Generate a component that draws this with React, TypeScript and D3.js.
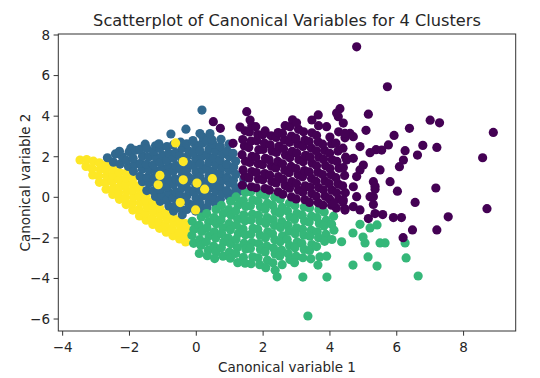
import React from "react";
import * as d3 from "d3";

const clusterColors = ["#440154", "#31688e", "#35b779", "#fde725"];
const xTicks = [-4, -2, 0, 2, 4, 6, 8];
const yTicks = [-6, -4, -2, 0, 2, 4, 6, 8];
const titleText = "Scatterplot of Canonical Variables for 4 Clusters";
const xLabelText = "Canonical variable 1";
const yLabelText = "Canonical variable 2";

// cluster 3 (yellow) – diagonal band
const yellowBand: [number, number][] = [
  [-3.48, 1.84],
  [-3.3, 1.52], [-3.28, 1.86],
  [-3.1, 1.1], [-3.12, 1.42], [-3.08, 1.78],
  [-2.9, 0.74], [-2.92, 1.05], [-2.88, 1.38], [-2.9, 1.7],
  [-2.7, 0.4], [-2.72, 0.72], [-2.68, 1.05], [-2.71, 1.36], [-2.69, 1.62],
  [-2.5, 0.14], [-2.48, 0.46], [-2.52, 0.78], [-2.5, 1.1], [-2.49, 1.4],
  [-2.3, -0.1], [-2.32, 0.22], [-2.28, 0.55], [-2.31, 0.88], [-2.3, 1.22],
  [-2.1, -0.36], [-2.12, -0.04], [-2.08, 0.3], [-2.11, 0.62], [-2.1, 0.95], [-2.09, 1.2],
  [-1.9, -0.63], [-1.92, -0.3], [-1.88, 0.02], [-1.91, 0.35], [-1.9, 0.68], [-1.89, 0.95],
  [-1.7, -0.92], [-1.72, -0.6], [-1.68, -0.27], [-1.71, 0.06], [-1.7, 0.38], [-1.69, 0.58],
  [-1.5, -1.13], [-1.52, -0.8], [-1.48, -0.48], [-1.51, -0.15], [-1.5, 0.12],
  [-1.3, -1.34], [-1.32, -1.02], [-1.28, -0.7], [-1.31, -0.38], [-1.3, -0.2],
  [-1.1, -1.53], [-1.12, -1.2], [-1.08, -0.88], [-1.1, -0.52],
  [-0.9, -1.72], [-0.92, -1.4], [-0.88, -1.08], [-0.9, -0.76],
  [-0.7, -1.9], [-0.72, -1.58], [-0.68, -1.25], [-0.7, -0.96],
  [-0.5, -2.05], [-0.52, -1.72], [-0.48, -1.4], [-0.5, -1.12],
  [-0.32, -2.2], [-0.34, -1.88], [-0.3, -1.55], [-0.32, -1.3],
];

// yellow points showing through the blue cluster
const yellowSpots: [number, number][] = [
  [-1.09, 1.08], [-1.14, 0.62], [-0.39, 0.86], [-0.48, -0.26], [-0.62, 2.68],
  [-0.39, 1.76], [0.02, 0.7], [0.48, 0.92], [0.25, 0.4], [-0.02, -0.62],
];

// cluster 1 (blue)
const bluePoints: [number, number][] = [
  [-2.66, 1.95],
  [-2.48, 1.73], [-2.42, 2.14],
  [-2.28, 1.64], [-2.21, 1.99], [-2.3, 2.27],
  [-2.03, 1.52], [-2.09, 1.82], [-2.01, 2.24], [-1.96, 2.42],
  [-1.88, 1.28], [-1.83, 1.64], [-1.89, 1.93], [-1.82, 2.32],
  [-1.61, 0.77], [-1.68, 1.03], [-1.62, 1.4], [-1.67, 1.68], [-1.61, 2.04], [-1.69, 2.36], [-1.53, 2.62],
  [-1.48, 0.33], [-1.42, 0.7], [-1.47, 0.98], [-1.41, 1.34], [-1.49, 1.63], [-1.42, 2.0], [-1.48, 2.4],
  [-1.22, 0.04], [-1.29, 0.32], [-1.21, 0.68], [-1.28, 0.96], [-1.22, 1.32], [-1.29, 1.6], [-1.21, 1.97], [-1.28, 2.26], [-1.22, 2.54],
  [-1.08, -0.2], [-1.02, 0.12], [-1.09, 0.4], [-1.01, 0.77], [-1.07, 1.06], [-1.02, 1.42], [-1.08, 1.7], [-1.01, 2.07], [-1.09, 2.4], [-1.12, 2.64],
  [-0.82, -0.43], [-0.89, -0.14], [-0.81, 0.22], [-0.88, 0.5], [-0.82, 0.87], [-0.88, 1.16], [-0.81, 1.52], [-0.89, 1.8], [-0.82, 2.17], [-0.88, 2.5],
  [-0.68, -0.68], [-0.62, -0.4], [-0.69, -0.03], [-0.61, 0.26], [-0.68, 0.62], [-0.62, 0.9], [-0.69, 1.27], [-0.61, 1.56], [-0.68, 1.92], [-0.62, 2.2], [-0.69, 2.58],
  [-0.42, -0.86], [-0.49, -0.54], [-0.41, -0.18], [-0.48, 0.1], [-0.42, 0.47], [-0.49, 0.76], [-0.41, 1.12], [-0.48, 1.4], [-0.42, 1.77], [-0.49, 2.06], [-0.42, 2.42], [-0.47, 2.72],
  [-0.28, -0.6], [-0.22, -0.32], [-0.29, 0.05], [-0.21, 0.33], [-0.28, 0.7], [-0.22, 0.98], [-0.29, 1.34], [-0.21, 1.63], [-0.28, 2.0], [-0.22, 2.28], [-0.29, 2.64],
  [-0.02, -0.68], [-0.09, -0.4], [-0.01, -0.03], [-0.08, 0.26], [-0.02, 0.62], [-0.09, 0.9], [-0.01, 1.27], [-0.08, 1.56], [-0.02, 1.92], [-0.09, 2.2], [-0.02, 2.57], [-0.1, 2.8],
  [0.18, -0.58], [0.11, -0.3], [0.19, 0.07], [0.12, 0.36], [0.18, 0.72], [0.11, 1.0], [0.19, 1.37], [0.12, 1.66], [0.18, 2.02], [0.11, 2.3], [0.18, 2.67], [0.2, 2.96],
  [0.32, -0.5], [0.38, -0.22], [0.31, 0.14], [0.38, 0.43], [0.32, 0.8], [0.38, 1.08], [0.31, 1.44], [0.38, 1.73], [0.32, 2.1], [0.38, 2.38], [0.31, 2.77],
  [0.58, -0.3], [0.51, 0.02], [0.59, 0.3], [0.52, 0.67], [0.58, 0.96], [0.51, 1.32], [0.59, 1.6], [0.52, 1.97], [0.58, 2.26], [0.51, 2.62], [0.47, 2.84],
  [0.72, -0.1], [0.78, 0.18], [0.71, 0.54], [0.78, 0.83], [0.72, 1.2], [0.78, 1.48], [0.71, 1.84], [0.78, 2.13], [0.72, 2.5], [0.74, 2.86],
  [0.98, 0.04], [0.91, 0.33], [0.99, 0.7], [0.92, 0.98], [0.98, 1.34], [0.91, 1.63], [0.99, 2.0], [0.92, 2.28], [0.98, 2.62],
  [1.12, 0.2], [1.18, 0.48], [1.11, 0.84], [1.18, 1.13], [1.12, 1.5], [1.18, 1.78], [1.1, 2.17],
  [1.33, 0.32], [1.38, 0.6], [1.42, 0.9],
  [-0.76, 3.12], [-0.31, 3.36], [0.17, 4.3], [0.11, 3.14], [0.41, 3.14],
];

// cluster 2 (green)
const greenPoints: [number, number][] = [
  [-0.12, -1.18], [-0.07, -1.57], [-0.13, -1.88], [-0.08, -2.27],
  [0.15, -0.97], [0.09, -1.38], [0.16, -1.68], [0.1, -2.08], [0.14, -2.37], [0.09, -2.77],
  [0.31, -0.8], [0.37, -1.2], [0.32, -1.5], [0.38, -1.9], [0.3, -2.19], [0.36, -2.6], [0.33, -2.88],
  [0.59, -0.6], [0.53, -1.0], [0.6, -1.3], [0.54, -1.7], [0.58, -2.0], [0.52, -2.4], [0.59, -2.69], [0.55, -3.02],
  [0.75, -0.4], [0.81, -0.8], [0.74, -1.1], [0.8, -1.5], [0.76, -1.79], [0.82, -2.2], [0.75, -2.49], [0.8, -2.9],
  [1.03, -0.2], [0.97, -0.6], [1.04, -0.89], [0.98, -1.3], [1.02, -1.6], [0.96, -2.0], [1.03, -2.29], [0.99, -2.7], [1.02, -3.0],
  [1.19, 0.02], [1.25, -0.38], [1.18, -0.67], [1.24, -1.08], [1.2, -1.37], [1.26, -1.78], [1.19, -2.07], [1.23, -2.48], [1.18, -2.77], [1.24, -3.22],
  [1.47, 0.24], [1.41, -0.16], [1.48, -0.45], [1.42, -0.86], [1.46, -1.15], [1.4, -1.56], [1.47, -1.85], [1.43, -2.26], [1.48, -2.55], [1.41, -2.96], [1.46, -3.25],
  [1.63, 0.27], [1.69, -0.13], [1.62, -0.42], [1.68, -0.83], [1.64, -1.12], [1.7, -1.53], [1.63, -1.82], [1.67, -2.23], [1.62, -2.52], [1.69, -2.93], [1.64, -3.27],
  [1.91, 0.18], [1.85, -0.18], [1.92, -0.47], [1.86, -0.88], [1.9, -1.17], [1.84, -1.58], [1.91, -1.87], [1.87, -2.28], [1.92, -2.57], [1.85, -2.98], [1.9, -3.32],
  [2.07, 0.1], [2.13, -0.3], [2.06, -0.59], [2.12, -1.0], [2.08, -1.29], [2.14, -1.7], [2.07, -1.99], [2.11, -2.4], [2.06, -2.69], [2.13, -3.1], [2.08, -3.47],
  [2.35, 0.0], [2.29, -0.4], [2.36, -0.69], [2.3, -1.1], [2.34, -1.39], [2.28, -1.8], [2.35, -2.09], [2.31, -2.5], [2.36, -2.79], [2.29, -3.23], [2.36, -3.6], [2.42, -3.92],
  [2.51, -0.1], [2.57, -0.5], [2.5, -0.79], [2.56, -1.2], [2.52, -1.49], [2.58, -1.9], [2.51, -2.19], [2.55, -2.6], [2.5, -2.89], [2.57, -3.32],
  [2.79, -0.28], [2.73, -0.68], [2.8, -0.97], [2.74, -1.38], [2.78, -1.67], [2.72, -2.08], [2.79, -2.37], [2.75, -2.78], [2.8, -3.07],
  [2.95, -0.4], [3.01, -0.8], [2.94, -1.09], [3.0, -1.5], [2.96, -1.79], [3.02, -2.2], [2.95, -2.49], [2.99, -2.9], [2.94, -3.22],
  [3.23, -0.48], [3.17, -0.88], [3.24, -1.17], [3.18, -1.58], [3.22, -1.87], [3.16, -2.28], [3.23, -2.57], [3.19, -2.98], [3.19, -3.93],
  [3.39, -0.53], [3.45, -0.93], [3.38, -1.22], [3.44, -1.63], [3.4, -1.92], [3.46, -2.33], [3.39, -2.62], [3.43, -3.03],
  [3.67, -0.6], [3.61, -1.0], [3.68, -1.29], [3.62, -1.7], [3.66, -1.99], [3.6, -2.43], [3.7, -2.94], [3.64, -3.34],
  [3.83, -0.73], [3.89, -1.13], [3.82, -1.42], [3.88, -1.83], [3.84, -2.17], [3.9, -2.9], [3.91, -3.93],
  [4.11, -0.93], [4.05, -1.33], [4.12, -1.62], [4.06, -2.08],
  [4.35, -2.19], [4.69, -1.76], [4.99, -1.96], [4.9, -1.33], [5.2, -1.51], [5.41, -1.36],
  [5.05, -2.25], [5.5, -2.25], [5.65, -2.25], [5.14, -2.94], [4.69, -3.34], [5.41, -3.39],
  [6.25, -2.25], [6.28, -2.99], [6.64, -3.88], [3.34, -5.85],
];

// cluster 0 (purple) – dense core
const purpleCore: [number, number][] = [
  [1.38, 0.6], [1.45, 1.03], [1.4, 1.35], [1.47, 1.78], [1.37, 2.1], [1.44, 2.53], [1.39, 2.85], [1.46, 3.28],
  [1.65, 0.52], [1.58, 0.95], [1.66, 1.27], [1.6, 1.72], [1.67, 2.02], [1.57, 2.45], [1.64, 2.77], [1.59, 3.22], [1.66, 3.52],
  [1.79, 0.47], [1.86, 0.9], [1.8, 1.22], [1.85, 1.66], [1.78, 1.97], [1.87, 2.35], [1.81, 2.79], [1.84, 3.09], [1.78, 3.48],
  [2.06, 0.43], [1.99, 0.86], [2.05, 1.17], [1.98, 1.61], [2.07, 1.92], [2.0, 2.36], [2.04, 2.67], [1.99, 3.08], [2.06, 3.27],
  [2.19, 0.35], [2.26, 0.78], [2.2, 1.09], [2.25, 1.53], [2.18, 1.85], [2.27, 2.28], [2.21, 2.59], [2.24, 3.03],
  [2.45, 0.27], [2.39, 0.71], [2.46, 1.02], [2.38, 1.45], [2.44, 1.77], [2.4, 2.21], [2.47, 2.52], [2.39, 2.95], [2.45, 3.19],
  [2.59, 0.15], [2.66, 0.58], [2.6, 0.89], [2.65, 1.33], [2.58, 1.65], [2.67, 2.08], [2.61, 2.39], [2.64, 2.83], [2.58, 3.15], [2.66, 3.53],
  [2.85, 0.02], [2.79, 0.45], [2.86, 0.77], [2.78, 1.21], [2.84, 1.52], [2.8, 1.95], [2.87, 2.27], [2.79, 2.71], [2.85, 3.02], [2.8, 3.48], [2.88, 3.82],
  [2.99, -0.08], [3.06, 0.35], [3.0, 0.67], [3.05, 1.11], [2.98, 1.42], [3.07, 1.85], [3.01, 2.17], [3.04, 2.61], [2.98, 2.92], [3.06, 3.35], [3.0, 3.67],
  [3.25, -0.12], [3.19, 0.25], [3.26, 0.57], [3.18, 1.01], [3.24, 1.32], [3.2, 1.75], [3.27, 2.07], [3.19, 2.51], [3.25, 2.82], [3.21, 3.23],
  [3.39, -0.25], [3.46, 0.18], [3.4, 0.49], [3.45, 0.93], [3.38, 1.25], [3.47, 1.68], [3.41, 1.99], [3.44, 2.43], [3.38, 2.75], [3.46, 3.18], [3.46, 3.81],
  [3.65, -0.27], [3.59, 0.05], [3.66, 0.48], [3.58, 0.79], [3.64, 1.23], [3.6, 1.55], [3.67, 1.98], [3.59, 2.29], [3.65, 2.73], [3.6, 3.05], [3.66, 3.53], [3.65, 4.06],
  [3.79, -0.38], [3.86, 0.05], [3.8, 0.37], [3.85, 0.81], [3.78, 1.12], [3.87, 1.55], [3.81, 1.87], [3.84, 2.31], [3.78, 2.62], [3.9, 3.48],
  [4.05, -0.39], [3.99, -0.08], [4.06, 0.35], [3.98, 0.67], [4.04, 1.11], [4.0, 1.42], [4.07, 1.85], [3.99, 2.17], [4.05, 2.63], [4.0, 2.97],
  [4.19, -0.53], [4.26, -0.09], [4.2, 0.22], [4.25, 0.65], [4.18, 0.97], [4.27, 1.43], [4.21, 1.77], [4.24, 2.28], [4.18, 2.67], [4.26, 3.23], [4.25, 3.97],
  [4.45, -0.57], [4.39, -0.23], [4.46, 0.23], [4.38, 0.57], [4.44, 1.08], [4.4, 1.47], [4.47, 1.98], [4.39, 2.42], [4.45, 2.93], [4.4, 3.66],
];

// cluster 0 (purple) – sparse outer points
const purpleOuter: [number, number][] = [
  [4.8, 7.42], [5.72, 5.45], [4.3, 4.37], [5.15, 4.1], [7.0, 3.8], [7.28, 3.67], [8.89, 3.2],
  [6.38, 3.4], [5.92, 3.05], [7.2, 2.46], [6.78, 2.56], [6.62, 2.08], [6.25, 2.3], [6.08, 1.51],
  [8.57, 1.95], [7.17, 0.46], [6.55, -0.25], [8.7, -0.56], [7.54, -0.96], [7.2, -1.61],
  [6.47, -1.61], [6.19, -1.99], [6.14, -1.0], [5.9, -1.0], [6.02, 0.3], [5.8, 0.77], [5.5, 1.35],
  [5.3, 0.77], [5.3, -0.35], [5.15, -1.05], [5.58, -0.85], [5.75, 2.58], [5.55, 2.33], [5.38, 2.35],
  [4.9, 2.5], [5.08, 3.3], [4.6, 3.15], [4.7, 1.92], [4.9, 1.35], [4.7, 0.52], [4.4, -0.13],
  [4.7, -0.46], [4.45, -0.63], [5.3, 0.03], [4.7, 2.99], [4.45, 3.15], [5.2, 2.2], [6.2, 1.84],
  [5.0, 1.59], [4.5, 1.84], [4.8, 1.02], [5.35, 0.4], [5.2, 0.03], [4.8, 0.03], [4.1, -0.3],
  [5.35, -0.8], [4.9, -0.62], [5.35, 0.55], [4.2, 4.15],
  [1.51, 4.22], [0.51, 3.73], [0.72, 3.4], [1.1, 2.66], [1.31, 3.46], [1.61, 3.81],
];

const W = 540;
const H = 378;
const FONT = "'DejaVu Sans', Verdana, sans-serif";
const R = 4.6;

export default function App() {
  const x = d3.scaleLinear().domain([-4.13, 9.56]).range([58.3, 515.7]);
  const y = d3.scaleLinear().domain([-6.59, 8.05]).range([331, 34]);
  const [x0, x1] = x.range();
  const [yb, yt] = y.range();
  const textColor = "#262626";

  const dots = (pts: [number, number][], color: string, key: string) =>
    pts.map((p, i) => (
      <circle key={key + i} cx={x(p[0])} cy={y(p[1])} r={R} fill={color} />
    ));

  return (
    <div style={{ position: "fixed", left: 0, top: 0, width: W, height: H, background: "#fff" }}>
      <svg width={W} height={H} style={{ display: "block" }}>
        <rect x={0} y={0} width={W} height={H} fill="#fff" />
        <defs>
          <clipPath id="plotClip">
            <rect x={x0} y={yt} width={x1 - x0} height={yb - yt} />
          </clipPath>
        </defs>
        <g clipPath="url(#plotClip)">
          {dots(yellowBand, clusterColors[3], "y")}
          {dots(bluePoints, clusterColors[1], "b")}
          {dots(greenPoints, clusterColors[2], "g")}
          {dots(purpleCore, clusterColors[0], "pc")}
          {dots(purpleOuter, clusterColors[0], "po")}
          {dots(yellowSpots, clusterColors[3], "ys")}
        </g>
        <rect x={x0} y={yt} width={x1 - x0} height={yb - yt} fill="none" stroke="#333" strokeWidth={1} />
        {xTicks.map((t) => (
          <g key={"xt" + t}>
            <line x1={x(t)} x2={x(t)} y1={yb} y2={yb + 4.7} stroke="#333" strokeWidth={1} />
            <text x={x(t)} y={351.5} textAnchor="middle" fontFamily={FONT} fontSize={13.5} fill={textColor}>
              {t < 0 ? "\u2212" + Math.abs(t) : String(t)}
            </text>
          </g>
        ))}
        {yTicks.map((t) => (
          <g key={"yt" + t}>
            <line x1={x0 - 4.7} x2={x0} y1={y(t)} y2={y(t)} stroke="#333" strokeWidth={1} />
            <text x={50} y={y(t) + 4.9} textAnchor="end" fontFamily={FONT} fontSize={13.5} fill={textColor}>
              {t < 0 ? "\u2212" + Math.abs(t) : String(t)}
            </text>
          </g>
        ))}
        <text x={(x0 + x1) / 2} y={371.5} textAnchor="middle" fontFamily={FONT} fontSize={13.5} fill={textColor}>
          {xLabelText}
        </text>
        <text
          transform={`translate(30.3,${(yt + yb) / 2}) rotate(-90)`}
          textAnchor="middle"
          fontFamily={FONT}
          fontSize={13.5}
          fill={textColor}
        >
          {yLabelText}
        </text>
        <text x={(x0 + x1) / 2} y={26} textAnchor="middle" fontFamily={FONT} fontSize={16.2} fill={textColor}>
          {titleText}
        </text>
      </svg>
    </div>
  );
}
